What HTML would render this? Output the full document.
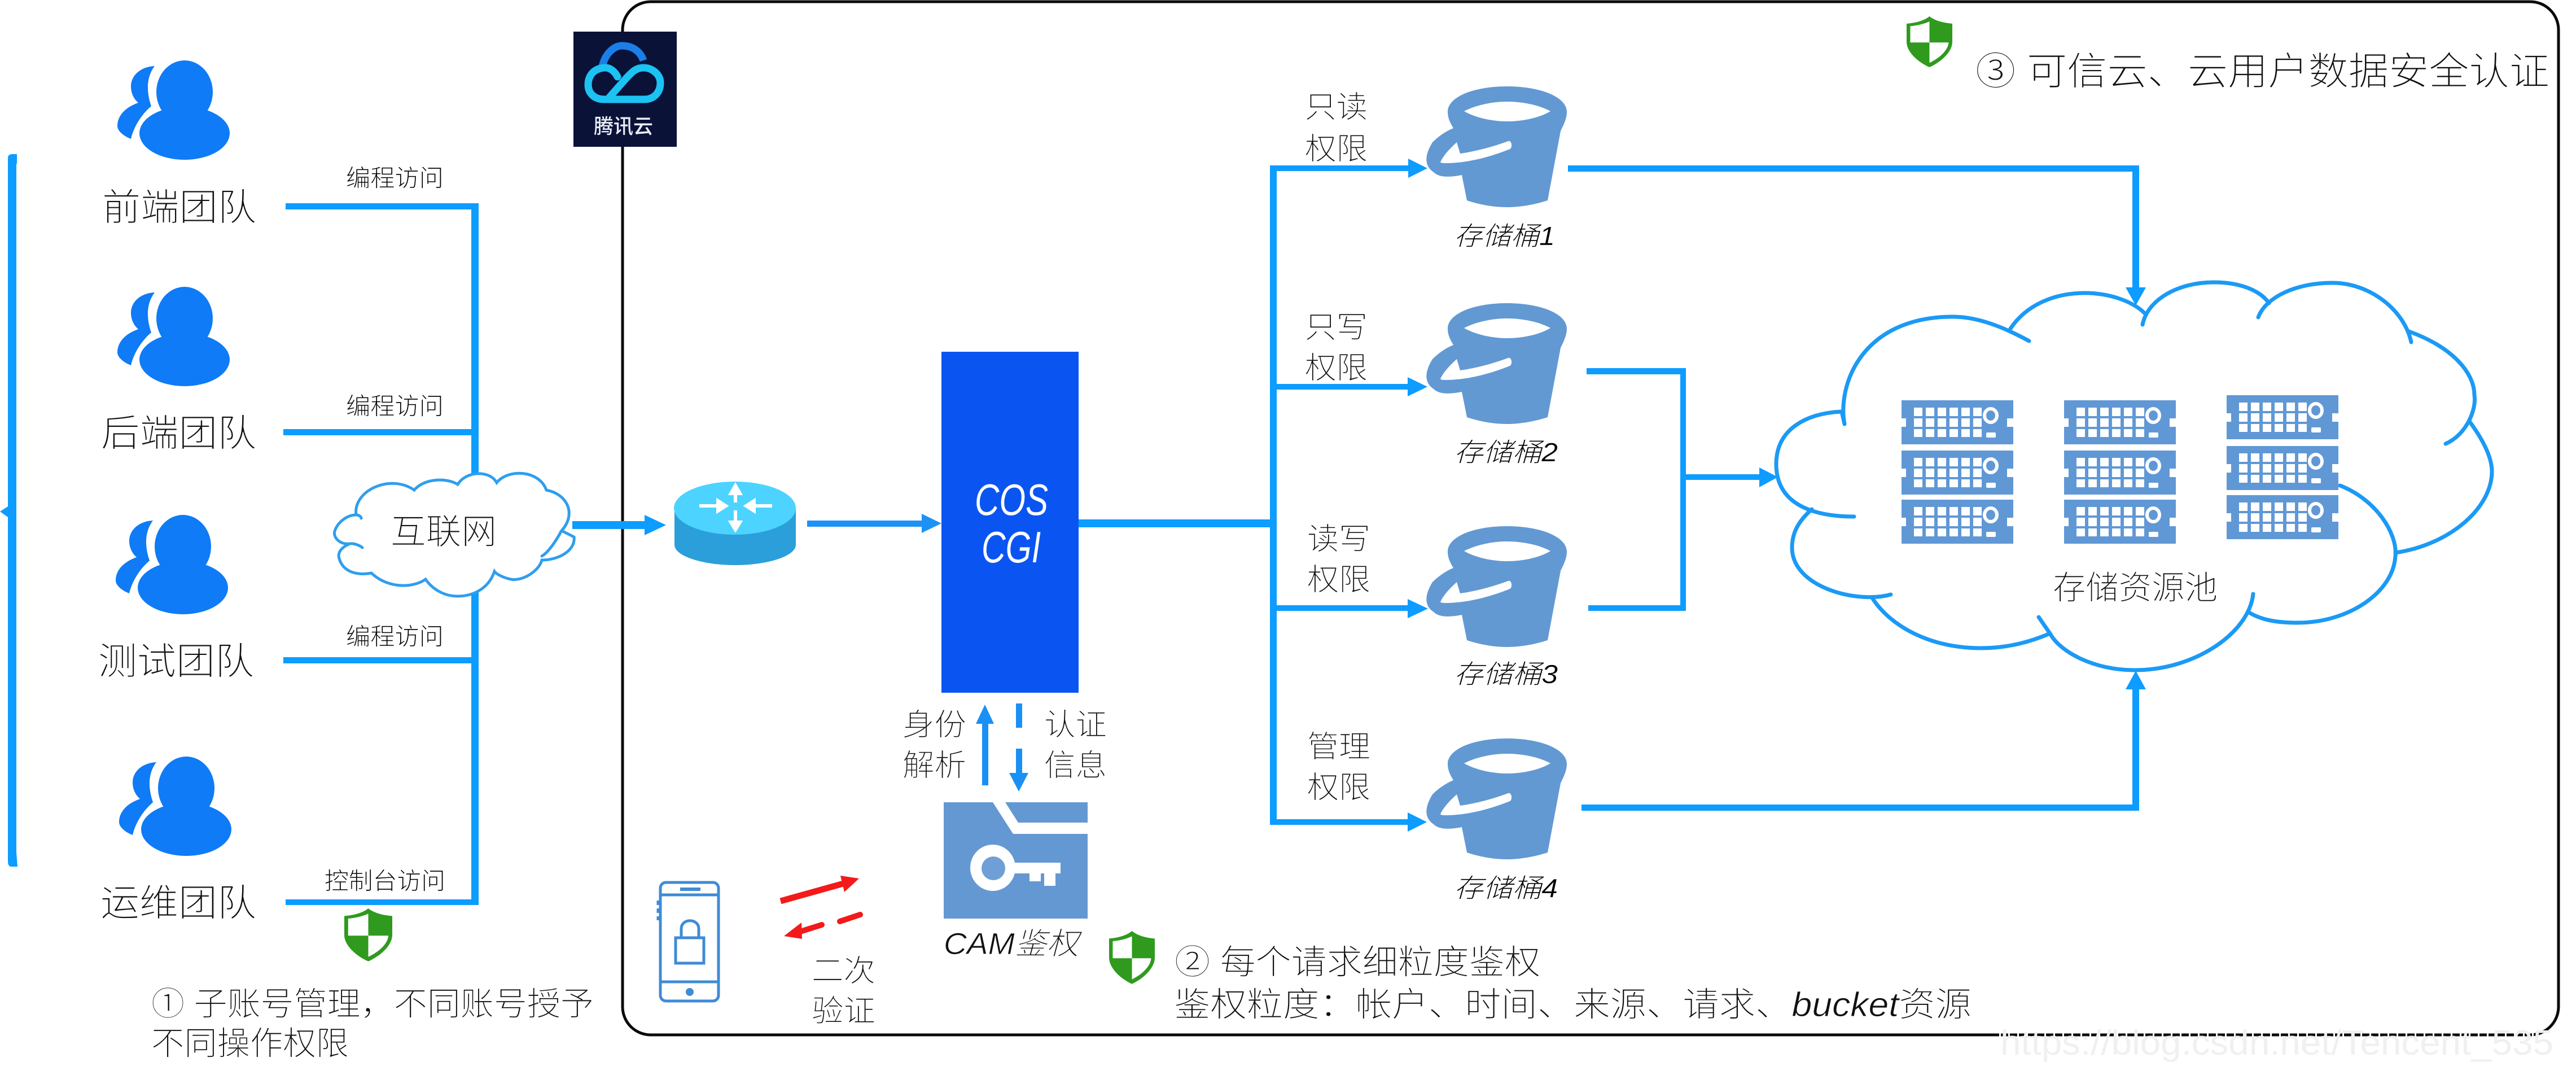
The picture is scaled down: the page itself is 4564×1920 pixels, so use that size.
<!DOCTYPE html>
<html lang="zh">
<head>
<meta charset="utf-8">
<title>COS 安全架构</title>
<style>
html,body{margin:0;padding:0;background:#fff;width:4564px;height:1920px;overflow:hidden}
svg{display:block}
text{font-family:"Liberation Sans","Noto Sans CJK SC","WenQuanYi Zen Hei",sans-serif;font-weight:300;fill:#111;stroke:#fff;stroke-width:.8px}
text[font-size="42"],text[font-size="46"]{stroke-width:.3px;fill:#000}
.ln{fill:#0d9cff}
.cl{fill:none;stroke:#1b9af5;stroke-width:7;stroke-linecap:round}
.cs{fill:none;stroke:#2f9eee;stroke-width:5;stroke-linecap:round}
</style>
</head>
<body>
<svg xmlns="http://www.w3.org/2000/svg" width="4564" height="1920" viewBox="0 0 4564 1920">
<defs>
<g id="person" fill="#0f7bf6">
<ellipse cx="327" cy="163" rx="50" ry="56"/>
<ellipse cx="327" cy="236" rx="80" ry="47"/>
<path d="M300 200H354L360 215H294Z"/>
<path d="M274 117C250 118 232 133 232 153C232 165 237 175 245 182C222 190 208 205 208 223C208 232 219 241 232 246C236 228 248 205 268 188C260 165 258 138 274 117Z"/>
</g>
<g id="bucket">
<path fill="#6299d3" d="M2565 198C2565 172 2610 153 2670 153C2730 153 2776 172 2776 198C2776 210 2770 222 2765 232L2742 355C2720 362 2695 367 2670 367C2645 367 2620 362 2599 355L2590 310C2570 314 2550 315 2540 305C2525 295 2522 278 2538 252C2548 242 2562 232 2575 227C2568 215 2565 208 2565 198Z"/>
<path fill="#fff" d="M2594 197C2615 186 2645 180 2670 180C2697 180 2727 186 2747 197C2727 209 2697 215 2670 215C2645 215 2615 209 2594 197Z"/>
<path fill="#fff" d="M2581 252L2587 272C2615 268 2645 260 2672 250C2679 248 2680 262 2675 264C2640 278 2600 289 2560 289C2555 289 2552 288 2552 287C2558 274 2570 262 2581 252Z"/>
</g>
<g id="server">
<path fill="#6098d6" d="M0 0H198V32H187V47H198V78H0V47H8V32H0Z"/>
<g fill="#fff">
<rect x="22" y="13" width="15" height="15"/><rect x="43" y="13" width="15" height="15"/><rect x="64" y="13" width="15" height="15"/><rect x="85" y="13" width="15" height="15"/><rect x="106" y="13" width="15" height="15"/><rect x="127" y="13" width="15" height="15"/>
<rect x="22" y="32" width="15" height="15"/><rect x="43" y="32" width="15" height="15"/><rect x="64" y="32" width="15" height="15"/><rect x="85" y="32" width="15" height="15"/><rect x="106" y="32" width="15" height="15"/><rect x="127" y="32" width="15" height="15"/>
<rect x="22" y="51" width="15" height="14"/><rect x="43" y="51" width="15" height="14"/><rect x="64" y="51" width="15" height="14"/><rect x="85" y="51" width="15" height="14"/><rect x="106" y="51" width="15" height="14"/><rect x="127" y="51" width="15" height="14"/>
<rect x="150" y="57" width="17" height="9" rx="2"/>
</g>
<ellipse cx="158" cy="27" rx="11" ry="12" fill="none" stroke="#fff" stroke-width="6"/>
</g>
<g id="shield">
<path fill="#2f9a1e" d="M50 0C62 12 80 18 100 20V70C100 100 72 128 50 140C28 128 0 100 0 70V20C20 18 38 12 50 0Z"/>
<path fill="#fff" d="M50 14V72H8V27C24 25 38 21 50 14Z"/>
<path fill="#fff" d="M50 72H92C90 96 70 116 50 128Z"/>
</g>
</defs>

<!-- main frame -->
<rect x="1103" y="3" width="3430" height="1830" rx="50" ry="50" fill="#fff" stroke="#0a0a0a" stroke-width="5"/>
<path d="M3542 1833H4500" stroke="#fff" stroke-width="7" stroke-dasharray="3 13" fill="none"/>
<text x="3544" y="1868" font-size="62" textLength="980" lengthAdjust="spacingAndGlyphs" style="fill:#f0f0f0;stroke:none">https://blog.csdn.net/Tencent_535</text>

<!-- left bracket -->
<path class="ln" d="M14 280Q14 273 22 273H30V290H29V1510L31 1535H20Q14 1535 14 1525Z"/>
<path class="ln" d="M14 897L0 906L14 916Z"/>

<!-- team lines -->
<rect class="ln" x="506" y="360" width="342" height="11"/>
<rect class="ln" x="502" y="760" width="346" height="11"/>
<rect class="ln" x="502" y="1164" width="346" height="11"/>
<rect class="ln" x="506" y="1593" width="342" height="10"/>
<rect class="ln" x="835" y="360" width="13" height="1243"/>

<!-- people -->
<use href="#person"/>
<use href="#person" y="401"/>
<use href="#person" x="-3" y="805"/>
<use href="#person" x="3" y="1233"/>

<text x="181" y="390" font-size="66" textLength="273" lengthAdjust="spacingAndGlyphs">前端团队</text>
<text x="179" y="790" font-size="66" textLength="275" lengthAdjust="spacingAndGlyphs">后端团队</text>
<text x="174" y="1194" font-size="66" textLength="276" lengthAdjust="spacingAndGlyphs">测试团队</text>
<text x="178" y="1622" font-size="66" textLength="276" lengthAdjust="spacingAndGlyphs">运维团队</text>

<text x="613" y="330" font-size="42" textLength="173" lengthAdjust="spacingAndGlyphs">编程访问</text>
<text x="613" y="734" font-size="42" textLength="173" lengthAdjust="spacingAndGlyphs">编程访问</text>
<text x="613" y="1142" font-size="42" textLength="173" lengthAdjust="spacingAndGlyphs">编程访问</text>
<text x="575" y="1575" font-size="42" textLength="214" lengthAdjust="spacingAndGlyphs">控制台访问</text>

<!-- internet cloud -->
<path fill="#fff" stroke="#2f9eee" stroke-width="5" stroke-linecap="round" d="M631 912C625 870 690 838 734 868C750 848 790 845 811 858C825 834 868 832 880 855C900 830 955 832 968 868C1005 875 1022 910 995 940L1017 951C1020 975 990 992 960 992C955 1012 925 1030 905 1026C895 1024 880 1018 876 1012C865 1045 835 1056 811 1056C785 1056 765 1042 754 1026C735 1040 690 1045 658 1015C630 1020 605 1012 600 985C600 975 608 968 620 963C600 965 590 950 593 941C598 925 615 912 631 912Z"/>
<path class="cs" d="M995 940C985 958 972 978 960 985M620 963C630 962 640 968 642 970M631 912C636 912 640 915 640 918"/>
<text x="692" y="963" font-size="62" textLength="188" lengthAdjust="spacingAndGlyphs">互联网</text>

<!-- shield 1 + notes -->
<use href="#shield" transform="translate(610 1609) scale(.85 .67)"/>
<text x="268" y="1798" font-size="58" textLength="784" lengthAdjust="spacingAndGlyphs">① 子账号管理，不同账号授予</text>
<text x="268" y="1868" font-size="58" textLength="350" lengthAdjust="spacingAndGlyphs">不同操作权限</text>

<!-- logo -->
<rect x="1016" y="56" width="183" height="204" fill="#0a1238"/>
<path d="M1067 118C1072 95 1088 81 1102 81C1120 81 1134 90 1140 107" fill="none" stroke="#1a7fe8" stroke-width="13"/>
<path d="M1094 136C1088 124 1078 119 1070 120C1050 122 1042 136 1042 150C1042 166 1054 176 1070 176H1142C1160 176 1170 162 1170 147C1170 132 1156 120 1140 120C1125 120 1118 130 1110 138L1080 172" fill="none" stroke="#1cc2f2" stroke-width="13" stroke-linecap="round"/>
<text x="1052" y="236" font-size="36" textLength="105" lengthAdjust="spacingAndGlyphs" style="fill:#e8edf5;stroke:none;font-weight:500">腾讯云</text>

<!-- internet to router -->
<rect class="ln" x="1014" y="923" width="130" height="14"/>
<path class="ln" d="M1142 912L1180 930L1142 948Z"/>

<!-- router -->
<path fill="#2b9fda" d="M1195 900V965C1195 985 1245 1001 1302 1001C1360 1001 1410 985 1410 965V900Z"/>
<ellipse cx="1302" cy="900" rx="108" ry="47" fill="#4dd3ff"/>
<g stroke="#fff" stroke-width="6" fill="#fff">
<path d="M1239 896H1272" fill="none"/><path d="M1272 887L1286 896L1272 905Z"/>
<path d="M1368 896H1336" fill="none"/><path d="M1336 887L1322 896L1336 905Z"/>
<path d="M1303 890V874" fill="none"/><path d="M1295 874L1303 860L1311 874Z"/>
<path d="M1303 904V925" fill="none"/><path d="M1295 925L1303 938L1311 925Z"/>
</g>

<!-- router to CGI -->
<rect fill="#1d92f5" x="1430" y="922" width="205" height="11"/>
<path fill="#1d92f5" d="M1633 910L1668 927L1633 944Z"/>

<!-- CGI -->
<rect x="1668" y="623" width="243" height="604" fill="#0a55f2"/>
<text x="1727" y="912" font-size="78" textLength="130" lengthAdjust="spacingAndGlyphs" style="fill:#fff;stroke:none;font-style:italic;font-weight:400">COS</text>
<text x="1739" y="996" font-size="78" textLength="105" lengthAdjust="spacingAndGlyphs" style="fill:#fff;stroke:none;font-style:italic;font-weight:400">CGI</text>

<!-- CGI to bus -->
<rect class="ln" x="1911" y="920" width="345" height="14"/>
<rect class="ln" x="2250" y="293" width="12" height="1168"/>
<rect class="ln" x="2250" y="293" width="250" height="10"/>
<path class="ln" d="M2495 281L2529 298L2495 315Z"/>
<rect class="ln" x="2256" y="680" width="240" height="10"/>
<path class="ln" d="M2494 668L2529 685L2494 702Z"/>
<rect class="ln" x="2256" y="1072" width="240" height="10"/>
<path class="ln" d="M2494 1061L2530 1078L2494 1095Z"/>
<rect class="ln" x="2250" y="1451" width="246" height="10"/>
<path class="ln" d="M2494 1439L2528 1456L2494 1473Z"/>

<!-- permission labels -->
<text x="2312" y="208" font-size="54" textLength="111" lengthAdjust="spacingAndGlyphs">只读</text>
<text x="2312" y="282" font-size="54" textLength="111" lengthAdjust="spacingAndGlyphs">权限</text>
<text x="2312" y="598" font-size="54" textLength="111" lengthAdjust="spacingAndGlyphs">只写</text>
<text x="2312" y="670" font-size="54" textLength="111" lengthAdjust="spacingAndGlyphs">权限</text>
<text x="2316" y="973" font-size="54" textLength="112" lengthAdjust="spacingAndGlyphs">读写</text>
<text x="2316" y="1045" font-size="54" textLength="112" lengthAdjust="spacingAndGlyphs">权限</text>
<text x="2316" y="1341" font-size="54" textLength="112" lengthAdjust="spacingAndGlyphs">管理</text>
<text x="2316" y="1413" font-size="54" textLength="112" lengthAdjust="spacingAndGlyphs">权限</text>

<!-- buckets -->
<use href="#bucket"/>
<use href="#bucket" y="384"/>
<use href="#bucket" y="779"/>
<use href="#bucket" y="1155"/>
<text x="2576" y="434" font-size="46" textLength="179" lengthAdjust="spacingAndGlyphs" font-style="italic">存储桶1</text>
<text x="2576" y="817" font-size="46" textLength="184" lengthAdjust="spacingAndGlyphs" font-style="italic">存储桶2</text>
<text x="2576" y="1210" font-size="46" textLength="184" lengthAdjust="spacingAndGlyphs" font-style="italic">存储桶3</text>
<text x="2576" y="1589" font-size="46" textLength="184" lengthAdjust="spacingAndGlyphs" font-style="italic">存储桶4</text>

<!-- bucket outputs -->
<rect class="ln" x="2778" y="293" width="1012" height="11"/>
<rect class="ln" x="3778" y="293" width="12" height="218"/>
<path class="ln" d="M3766 509H3802L3784 541Z"/>
<rect class="ln" x="2811" y="652" width="176" height="11"/>
<rect class="ln" x="2977" y="652" width="10" height="430"/>
<rect class="ln" x="2814" y="1072" width="173" height="10"/>
<rect class="ln" x="2977" y="840" width="142" height="10"/>
<path class="ln" d="M3117 828L3150 845L3117 863Z"/>
<rect class="ln" x="2802" y="1425" width="988" height="11"/>
<rect class="ln" x="3778" y="1218" width="12" height="218"/>
<path class="ln" d="M3766 1221H3802L3784 1188Z"/>

<!-- storage cloud -->
<path class="cl" d="M3285 915C3225 915 3147 900 3147 822C3147 760 3200 732 3263 729L3268 751"/>
<path class="cl" d="M3268 751C3255 680 3300 561 3460 561C3510 561 3560 585 3595 604"/>
<path class="cl" d="M3562 582C3590 540 3640 519 3693 519C3740 519 3780 535 3800 555"/>
<path class="cl" d="M3796 575C3805 530 3860 500 3922 500C3970 500 4005 515 4020 537"/>
<path class="cl" d="M4001 562C4015 525 4070 501 4132 501C4200 501 4260 550 4272 606"/>
<path class="cl" d="M4268 587C4345 615 4384 660 4384 700C4388 725 4370 770 4333 786"/>
<path class="cl" d="M4375 746C4400 780 4415 810 4415 835C4415 900 4340 965 4244 979"/>
<path class="cl" d="M4146 860C4210 885 4248 945 4244 985C4240 1050 4160 1103 4071 1103C4040 1103 4010 1100 3985 1085"/>
<path class="cl" d="M3992 1052C3985 1120 3890 1187 3782 1187C3710 1187 3650 1155 3632 1122L3612 1093"/>
<path class="cl" d="M3632 1122C3590 1140 3550 1148 3511 1148C3420 1148 3350 1110 3317 1059"/>
<path class="cl" d="M3350 1053C3290 1070 3175 1040 3175 970C3175 940 3190 920 3210 902"/>

<!-- servers -->
<use href="#server" x="3369" y="709"/><use href="#server" x="3369" y="798"/><use href="#server" x="3369" y="885"/>
<use href="#server" x="3657" y="709"/><use href="#server" x="3657" y="798"/><use href="#server" x="3657" y="885"/>
<use href="#server" x="3945" y="700"/><use href="#server" x="3945" y="790"/><use href="#server" x="3945" y="877"/>
<text x="3637" y="1061" font-size="58" textLength="292" lengthAdjust="spacingAndGlyphs">存储资源池</text>

<!-- shield 3 + title -->
<use href="#shield" transform="translate(3378 29) scale(.81 .643)"/>
<text x="3500" y="150" font-size="68" textLength="1017" lengthAdjust="spacingAndGlyphs">③ 可信云、云用户数据安全认证</text>

<!-- CGI / CAM arrows -->
<rect fill="#1a90f5" x="1740" y="1280" width="11" height="111"/>
<path fill="#1a90f5" d="M1729 1282L1745 1248L1761 1282Z"/>
<rect fill="#1a90f5" x="1800" y="1246" width="11" height="43"/>
<rect fill="#1a90f5" x="1800" y="1326" width="11" height="45"/>
<path fill="#1a90f5" d="M1788 1369H1822L1805 1402Z"/>
<text x="1599" y="1302" font-size="54" textLength="113" lengthAdjust="spacingAndGlyphs">身份</text>
<text x="1599" y="1374" font-size="54" textLength="113" lengthAdjust="spacingAndGlyphs">解析</text>
<text x="1850" y="1302" font-size="54" textLength="111" lengthAdjust="spacingAndGlyphs">认证</text>
<text x="1850" y="1374" font-size="54" textLength="111" lengthAdjust="spacingAndGlyphs">信息</text>

<!-- CAM icon -->
<path fill="#6498d2" d="M1672 1421H1759L1795 1477H1927V1627H1672Z"/>
<path fill="#6498d2" d="M1781 1421H1927V1457H1804Z"/>
<path fill="#fff" d="M1796 1528H1879V1547H1870V1569H1850V1547H1844V1561H1824V1547H1796Z"/>
<ellipse cx="1759" cy="1537" rx="40" ry="41" fill="#fff"/>
<ellipse cx="1760" cy="1538" rx="21" ry="21" fill="#6f9fd6"/>
<text x="1672" y="1690" font-size="54" textLength="239" lengthAdjust="spacingAndGlyphs" font-style="italic">CAM鉴权</text>

<!-- phone -->
<rect x="1170" y="1563" width="103" height="210" rx="10" fill="#fff" stroke="#3f8bd6" stroke-width="5"/>
<path d="M1170 1585H1273M1170 1739H1273" stroke="#3f8bd6" stroke-width="5" fill="none"/>
<rect x="1197" y="1661" width="50" height="45" fill="none" stroke="#3f8bd6" stroke-width="5"/>
<path d="M1207 1661V1645C1207 1626 1238 1626 1238 1645V1661" fill="none" stroke="#3f8bd6" stroke-width="5"/>
<circle cx="1222" cy="1757" r="7" fill="#3f8bd6"/>
<rect x="1205" y="1572" width="36" height="6" fill="#3f8bd6"/>
<path d="M1166 1595V1630" stroke="#3f8bd6" stroke-width="5" stroke-dasharray="8 6" fill="none"/>

<!-- red arrows -->
<path d="M1383 1596L1494 1565" stroke="#f21a1a" stroke-width="11" fill="none"/>
<path fill="#f21a1a" d="M1489 1551L1522 1556L1496 1580Z"/>
<path d="M1524 1620L1488 1632M1456 1638L1418 1650" stroke="#f21a1a" stroke-width="10" fill="none" stroke-linecap="round"/>
<path fill="#f21a1a" d="M1420 1634L1389 1658L1421 1663Z"/>
<text x="1438" y="1738" font-size="54" textLength="113" lengthAdjust="spacingAndGlyphs">二次</text>
<text x="1438" y="1809" font-size="54" textLength="113" lengthAdjust="spacingAndGlyphs">验证</text>

<!-- shield 2 + note -->
<use href="#shield" transform="translate(1965 1649) scale(.81 .67)"/>
<text x="2081" y="1725" font-size="60" textLength="648" lengthAdjust="spacingAndGlyphs">② 每个请求细粒度鉴权</text>
<text x="2080" y="1800" font-size="60" textLength="1413" lengthAdjust="spacingAndGlyphs">鉴权粒度：帐户、时间、来源、请求、<tspan font-style="italic">bucket</tspan>资源</text>
</svg>
</body>
</html>
